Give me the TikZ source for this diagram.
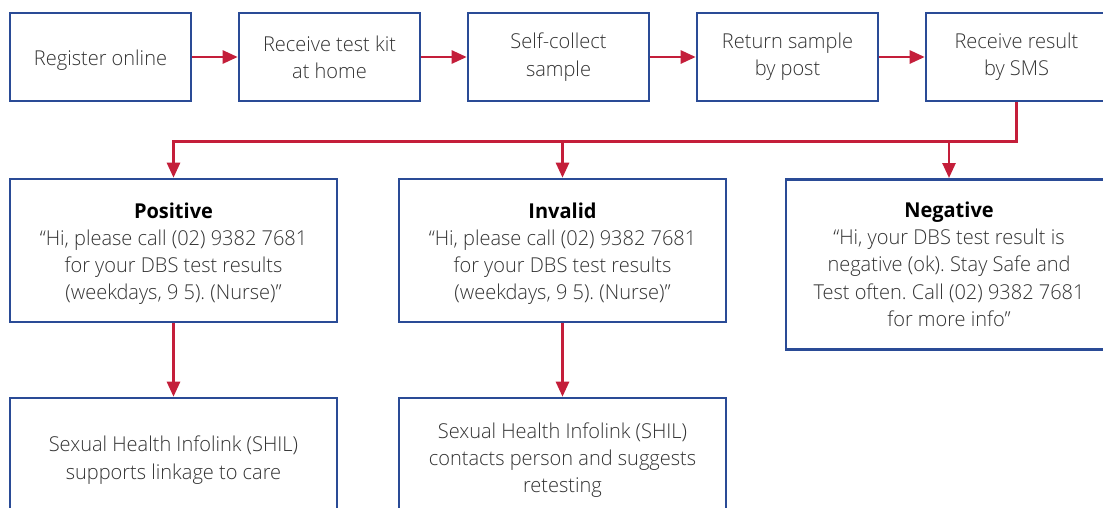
\documentclass[tikz,border=0pt]{standalone}
\usepackage{fontspec}
\setmainfont{Open Sans}[UprightFont=* Light, BoldFont=* Bold, FakeStretch=0.975]
\usetikzlibrary{arrows.meta}
\definecolor{boxblue}{HTML}{2A4B96}
\definecolor{flowred}{HTML}{C41E3A}
\definecolor{txt}{HTML}{333333}
% invisible strut that lowers a text block by raising its first line
\newcommand\firstdrop[1]{\rule{0pt}{#1}}
\tikzset{
  stepbox/.style={draw=boxblue, line width=2.6pt, fill=white, align=center,
    text=txt, font=\fontsize{20.5}{27.3}\selectfont\frenchspacing, inner sep=0pt},
  topbox/.style={stepbox, minimum width=181pt, minimum height=88pt},
  resbox/.style={stepbox, minimum width=327pt, minimum height=143pt},
  negbox/.style={stepbox, minimum width=326pt, minimum height=170pt},
  linkbox/.style={stepbox, minimum width=327pt, minimum height=118pt},
  flow/.style={draw=flowred, line width=2.6pt},
  arr/.style={flow, -{Triangle[length=15pt,width=13pt]}},
}
\begin{document}
\begin{tikzpicture}[x=1pt,y=-1pt]
\clip (0,0) rectangle (1103,507);
\fill[white] (0,0) rectangle (1103,507);

% process steps
\node[topbox] (reg)  at (100.5,57) {\firstdrop{22pt}Register online};
\node[topbox] (kit)  at (329.5,57) {Receive test kit\\at home};
\node[topbox] (col)  at (558.5,57) {Self-collect\\sample};
\node[topbox] (ret)  at (787.5,57) {Return sample\\by post};
\node[topbox] (sms)  at (1016.5,57) {Receive result\\by SMS};

% result messages
\node[resbox] (pos) at (173.5,250.5) {\firstdrop{22pt}{\bfseries\color{black}Positive}\\“Hi, please call (02) 9382 7681\\for your DBS test results\\(weekdays, 9 5). (Nurse)”};
\node[resbox] (inv) at (562.5,250.5) {\firstdrop{22pt}{\bfseries\color{black}Invalid}\\“Hi, please call (02) 9382 7681\\for your DBS test results\\(weekdays, 9 5). (Nurse)”};
\node[negbox] (neg) at (949,264.3) {{\bfseries\color{black}Negative}\\“Hi, your DBS test result is\\negative (ok). Stay Safe and\\Test often. Call (02) 9382 7681\\for more info”};

% follow-up
\node[linkbox] (care)   at (173.5,457) {\firstdrop{22pt}Sexual Health Infolink (SHIL)\\supports linkage to care};
\node[linkbox] (retest) at (562.5,457) {\firstdrop{22pt}Sexual Health Infolink (SHIL)\\contacts person and suggests\\retesting};

% connectors
\draw[arr] (reg) -- (kit);
\draw[arr] (kit) -- (col);
\draw[arr] (col) -- (ret);
\draw[arr] (ret) -- (sms);

\coordinate (bus) at (1016.5,141.7);
\draw[arr] (sms.south) -- (bus) -| (pos.north);
\draw[arr] (inv.north |- bus) -- (inv.north);
\draw[arr] (neg.north |- bus) -- (neg.north);

\draw[arr] (pos) -- (care);
\draw[arr] (inv) -- (retest);
\end{tikzpicture}
\end{document}
